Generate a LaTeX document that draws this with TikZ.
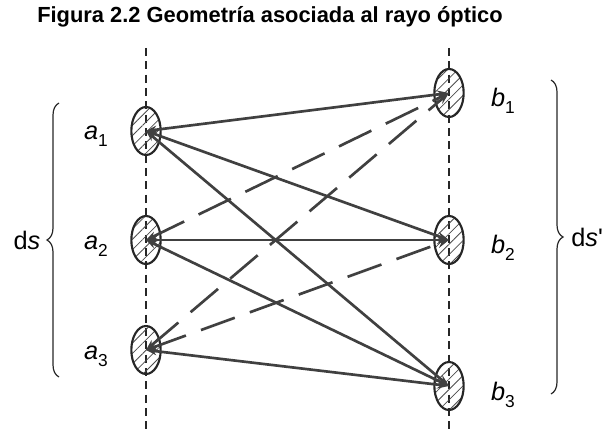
\documentclass[tikz,border=0pt]{standalone}
\usepackage{fontspec}
\setmainfont{Liberation Sans}
\usetikzlibrary{arrows.meta, positioning, shapes.geometric, patterns.meta,
                decorations.pathreplacing}

\newcommand{\spotlbl}[2]{\textit{#1}\raisebox{-0.55ex}{\fontsize{13}{13}\selectfont #2}}

\begin{document}
\begin{tikzpicture}[
    x=0.75pt, y=-0.75pt,
    >=Stealth,
    spot/.style={draw=black!85, ellipse, line width=1.6pt,
                 minimum width=22pt, minimum height=36pt, inner sep=0pt,
                 pattern={Lines[angle=45, distance=5.5pt, line width=0.6pt]},
                 pattern color=black!70},
    guide/.style={draw=black!85, line width=1.1pt, dash pattern=on 6pt off 4pt},
    ray/.style={draw=black!75, line width=2pt,
                {Stealth[length=8pt,width=6pt]}-{Stealth[length=9pt,width=6pt]}},
    backray/.style={ray, dash pattern=on 27pt off 12pt},
    lbl/.style={font=\fontsize{19}{19}\selectfont, inner sep=0pt},
    bracer/.style={draw=black!85, line width=0.9pt, decorate,
                   decoration={brace, amplitude=9pt}}
  ]
  \useasboundingbox (0,0) rectangle (605,434);

  \node[font=\fontsize{16.4}{16.4}\selectfont\bfseries] (title) at (270,17)
    {Figura 2.2 Geometría asociada al rayo óptico};

  % guide lines
  \coordinate (ltop) at (146,48);
  \coordinate (lbot) at (146,434);
  \coordinate (rtop) at (449,48);
  \coordinate (rbot) at (449,434);
  \draw[guide] (ltop) -- (lbot);
  \draw[guide] (rtop) -- (rbot);

  % spots
  \node[spot] (a1) at (146,131) {};
  \node[spot] (a2) at (146,240) {};
  \node[spot] (a3) at (146,350) {};
  \node[spot] (b1) at (449,93) {};
  \node[spot] (b2) at (449,240) {};
  \node[spot] (b3) at (449,386) {};

  % rays
  \draw[ray] (a1.center) -- (b1.center);
  \draw[ray] (a1.center) -- (b2.center);
  \draw[ray] (a1.center) -- (b3.center);
  \draw[ray] (a2.center) -- (b2.center);
  \draw[ray] (a2.center) -- (b3.center);
  \draw[ray] (a3.center) -- (b3.center);
  \draw[backray] (a2.center) -- (b1.center);
  \draw[backray] (a3.center) -- (b1.center);
  \draw[backray] (a3.center) -- (b2.center);

  % labels
  \node[lbl] (la1) at (96,136) {\spotlbl{a}{1}};
  \node[lbl] (la2) at (96,246) {\spotlbl{a}{2}};
  \node[lbl] (la3) at (96,356) {\spotlbl{a}{3}};
  \node[lbl] (lb1) at (503,101) {\spotlbl{b}{1}};
  \node[lbl] (lb2) at (503,248) {\spotlbl{b}{2}};
  \node[lbl] (lb3) at (503,395) {\spotlbl{b}{3}};

  % braces
  \coordinate (lbrbot) at (59,377);
  \coordinate (lbrtop) at (59,103);
  \coordinate (rbrtop) at (551,80);
  \coordinate (rbrbot) at (551,394);
  \draw[bracer] (lbrbot) -- (lbrtop);
  \draw[bracer] (rbrtop) -- (rbrbot);
  \node[lbl] (ds) at (27,240) {d\textit{s}};
  \node[lbl, anchor=west] (dsp) at (571,237) {d\textit{s}\textquotesingle};
\end{tikzpicture}
\end{document}
